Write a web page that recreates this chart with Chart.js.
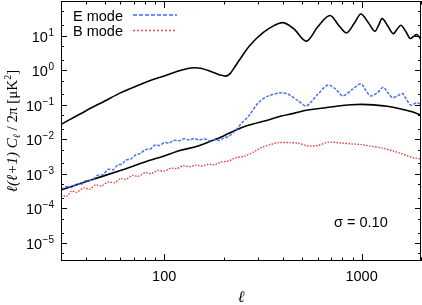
<!DOCTYPE html>
<html>
<head>
<meta charset="utf-8">
<script src="https://cdn.jsdelivr.net/npm/chart.js@4.4.1/dist/chart.umd.min.js"></script>
<style>
  html, body { margin: 0; padding: 0; background: #fff; }
</style>
</head>
<body>
<canvas id="c" width="422" height="305"></canvas>
<script>
// spectra (multipole l, value in uK^2)
const ttEll = [30, 40, 50, 60, 70, 85, 100, 115, 130, 142, 155, 175, 190, 204, 215, 228, 238, 270, 318, 360, 397, 452, 525, 600, 692, 770, 837, 920, 992, 1080, 1170, 1220, 1270, 1360, 1450, 1510, 1580, 1680, 1770, 1830, 1900, 2000];
const ttVal = [0.027, 0.066, 0.128, 0.22, 0.32, 0.5, 0.68, 0.9, 1.1, 1.17, 1.12, 0.88, 0.74, 0.67, 0.78, 1.25, 1.8, 5.0, 12.4, 19.4, 23.7, 16, 6.9, 18, 38, 19, 11.9, 23, 42, 24, 13.3, 20, 31, 18.5, 11.4, 15, 19.8, 12.7, 8.2, 9.4, 10.7, 7.6];

const lowEll = [30, 40, 60, 80, 100, 120, 150, 174, 200, 228, 264, 330, 392, 452, 531, 646, 760, 884, 1000, 1150, 1350, 1580, 1800, 2000];
const lowVal = [3.4e-4, 5.9e-4, 1.25e-3, 2.2e-3, 3.3e-3, 4.7e-3, 6.5e-3, 9e-3, 0.0125, 0.018, 0.025, 0.035, 0.047, 0.056, 0.07, 0.08, 0.092, 0.1, 0.102, 0.099, 0.09, 0.075, 0.062, 0.05];

// E mode (noisy simulation)
const eEll = [30, 32, 34, 36, 38, 40, 43, 46, 49, 52, 55, 58, 61, 64, 68, 72, 76, 80, 85, 90, 95, 100, 106, 112, 119, 126, 134, 142, 150, 160, 170, 180, 190, 200, 212, 222, 232, 245, 268, 300, 338, 392, 425, 477, 525, 600, 676, 740, 804, 900, 992, 1050, 1112, 1200, 1290, 1360, 1433, 1520, 1610, 1690, 1770, 1850, 1920, 2000];
const eVal = [3.6e-4, 4.3e-4, 4.0e-4, 5.2e-4, 4.9e-4, 6.3e-4, 6.6e-4, 9e-4, 9.5e-4, 1.35e-3, 1.3e-3, 1.8e-3, 1.9e-3, 2.5e-3, 2.7e-3, 3.6e-3, 3.9e-3, 5.0e-3, 5.2e-3, 6.8e-3, 6.6e-3, 8.0e-3, 7.8e-3, 9.3e-3, 9.0e-3, 1.04e-2, 9.5e-3, 1.05e-2, 9.6e-3, 1.02e-2, 9.0e-3, 9.8e-3, 9.2e-3, 1.08e-2, 1.2e-2, 1.5e-2, 1.9e-2, 2.8e-2, 0.047, 0.114, 0.18, 0.22, 0.2, 0.13, 0.092, 0.2, 0.37, 0.28, 0.18, 0.28, 0.40, 0.26, 0.18, 0.22, 0.32, 0.22, 0.16, 0.18, 0.21, 0.14, 0.098, 0.107, 0.114, 0.10];

// B mode (noisy simulation)
const bEll = [30, 32, 34, 36, 39, 42, 45, 48, 52, 56, 60, 64, 69, 74, 80, 86, 93, 100, 108, 116, 125, 135, 145, 156, 168, 180, 195, 212, 230, 258, 290, 312, 345, 379, 430, 477, 537, 600, 676, 780, 900, 1000, 1100, 1285, 1440, 1600, 1840, 2000];
const bVal = [2.6e-4, 2.2e-4, 3.2e-4, 2.9e-4, 3.9e-4, 3.6e-4, 4.8e-4, 4.4e-4, 5.8e-4, 5.5e-4, 7.2e-4, 6.9e-4, 8.9e-4, 8.5e-4, 1.08e-3, 1.02e-3, 1.25e-3, 1.2e-3, 1.45e-3, 1.42e-3, 1.7e-3, 1.6e-3, 1.78e-3, 1.68e-3, 1.9e-3, 1.82e-3, 2.2e-3, 2.35e-3, 2.9e-3, 3.3e-3, 4.6e-3, 5.8e-3, 7e-3, 8e-3, 8e-3, 7.7e-3, 6.4e-3, 6.6e-3, 8.2e-3, 7.8e-3, 7.3e-3, 7e-3, 6.4e-3, 5.5e-3, 4.6e-3, 3.8e-3, 2.9e-3, 2.7e-3];

// axis ticks
const xMajor = [100, 1000];
const xMinor = [40, 50, 60, 70, 80, 90, 200, 300, 400, 500, 600, 700, 800, 900, 2000];
const yExp = [-5, -4, -3, -2, -1, 0, 1];
const yMinorMult = [2, 5];
const sigmaText = "σ = 0.10";

const SANS = '"Liberation Sans", Arial, sans-serif';
const SERIF = '"Liberation Serif", "Times New Roman", serif';

const toPts = (ells, vals) => ells.map((l, i) => ({ x: l, y: vals[i] }));

// frame, inward ticks, labels and legend
const framePlugin = {
  id: "frame",
  afterDatasetsDraw(chart) {
    const { ctx, chartArea: a, scales } = chart;
    const xs = scales.x, ys = scales.y;
    ctx.save();
    ctx.strokeStyle = "#000";
    ctx.lineWidth = 1;
    ctx.strokeRect(a.left + 0.5, a.top + 0.5, a.right - a.left - 1, a.bottom - a.top - 1);

    ctx.beginPath();
    const xt = (v, len) => {
      const px = Math.round(xs.getPixelForValue(v)) + 0.5;
      ctx.moveTo(px, a.bottom); ctx.lineTo(px, a.bottom - len);
      ctx.moveTo(px, a.top); ctx.lineTo(px, a.top + len);
    };
    const yt = (v, len) => {
      const py = Math.round(ys.getPixelForValue(v)) + 0.5;
      ctx.moveTo(a.left, py); ctx.lineTo(a.left + len, py);
      ctx.moveTo(a.right, py); ctx.lineTo(a.right - len, py);
    };
    xMajor.forEach(v => xt(v, 7));
    xMinor.forEach(v => xt(v, 3.5));
    yExp.forEach(e => {
      yt(Math.pow(10, e), 6);
      yMinorMult.forEach(m => yt(m * Math.pow(10, e), 3));
    });
    yt(5e-6, 3);
    ctx.stroke();

    // x tick labels
    ctx.fillStyle = "#000";
    ctx.font = "14.5px " + SANS;
    ctx.textAlign = "center";
    ctx.textBaseline = "alphabetic";
    xMajor.forEach(v => ctx.fillText(String(v), xs.getPixelForValue(v), 281));

    // y tick labels 10^n
    yExp.forEach(e => {
      const py = ys.getPixelForValue(Math.pow(10, e));
      const ex = String(e).replace("-", "\u2212");
      ctx.font = "10px " + SANS;
      const we = ctx.measureText(ex).width;
      ctx.textAlign = "left";
      const right = 54;
      ctx.fillText(ex, right - we, py + 0);
      ctx.font = "14.5px " + SANS;
      ctx.textAlign = "right";
      ctx.fillText("10", right - we - 0.5, py + 6);
    });

    // x axis title
    ctx.font = "italic 16px " + SERIF;
    ctx.textAlign = "center";
    ctx.fillText("\u2113", (a.left + a.right) / 2, 302);

    // y axis title, rotated
    const segs = [
      { t: "\u2113(\u2113+1) C", f: "italic 15px " + SERIF, dy: 0 },
      { t: "\u2113", f: "italic 10px " + SERIF, dy: 3 },
      { t: " / 2\u03c0 [\u03bcK", f: "15px " + SERIF, dy: 0 },
      { t: "2", f: "10px " + SERIF, dy: -6 },
      { t: "]", f: "15px " + SERIF, dy: 0 }
    ];
    let total = 0;
    segs.forEach(s => { ctx.font = s.f; s.w = ctx.measureText(s.t).width; total += s.w; });
    ctx.translate(17, (a.top + a.bottom) / 2);
    ctx.rotate(-Math.PI / 2);
    ctx.textAlign = "left";
    let cx = -total / 2;
    segs.forEach(s => { ctx.font = s.f; ctx.fillText(s.t, cx, s.dy); cx += s.w; });
    ctx.setTransform(1, 0, 0, 1, 0, 0);

    // sigma annotation
    ctx.font = "14.5px " + SANS;
    ctx.textAlign = "left";
    ctx.fillText(sigmaText, 334, 227);

    // legend (noisy series only)
    const leg = chart.data.datasets.filter(d => d.showInLegend);
    leg.forEach((d, i) => {
      const y = 15 + i * 15.5;
      ctx.setLineDash([]);
      ctx.font = "14.5px " + SANS;
      ctx.fillStyle = "#000";
      ctx.fillText(d.label, 73, y + 5.5);
      ctx.beginPath();
      ctx.setLineDash(d.legendDash);
      ctx.strokeStyle = d.legendColor;
      ctx.lineWidth = 1.3;
      ctx.moveTo(133, y); ctx.lineTo(177, y);
      ctx.stroke();
    });
    ctx.restore();
  }
};

new Chart(document.getElementById("c"), {
  type: "line",
  data: {
    datasets: [
      {
        label: "E mode", showInLegend: true, legendDash: [4, 2], legendColor: "#3a6cff",
        data: toPts(eEll, eVal),
        borderColor: "#4a72ea", borderWidth: 1.5, borderDash: [3, 1.5],
        pointRadius: 0, tension: 0.3
      },
      {
        label: "B mode", showInLegend: true, legendDash: [2, 2], legendColor: "#f04848",
        data: toPts(bEll, bVal),
        borderColor: "#f03c3c", borderWidth: 1.4, borderDash: [1.5, 1.5],
        pointRadius: 0, tension: 0.3
      },
      {
        label: "theory high",
        data: toPts(ttEll, ttVal),
        borderColor: "#000", borderWidth: 1.6,
        pointRadius: 0, cubicInterpolationMode: "monotone"
      },
      {
        label: "theory low",
        data: toPts(lowEll, lowVal),
        borderColor: "#000", borderWidth: 1.6,
        pointRadius: 0, cubicInterpolationMode: "monotone"
      }
    ]
  },
  options: {
    responsive: false,
    animation: false,
    layout: { padding: { left: 61, right: 1, top: 1, bottom: 44 } },
    plugins: { legend: { display: false }, tooltip: { enabled: false } },
    scales: {
      x: { type: "logarithmic", min: 30, max: 2000, display: false },
      y: { type: "logarithmic", min: 3e-6, max: 100, display: false }
    }
  },
  plugins: [framePlugin]
});
</script>
</body>
</html>
